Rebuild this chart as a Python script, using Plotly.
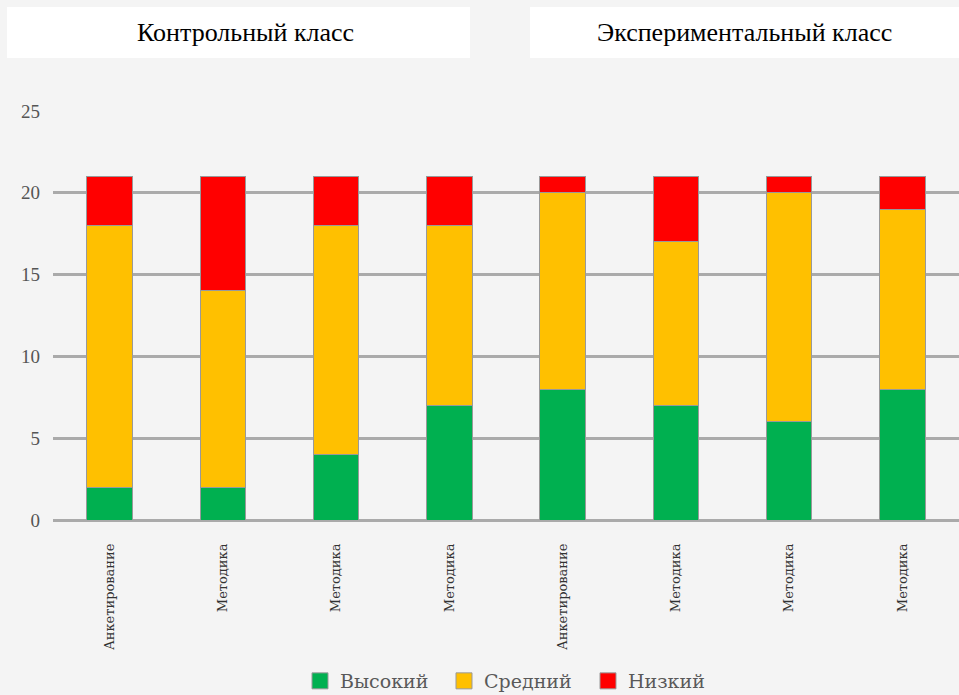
import plotly.graph_objects as go

categories = ["Анкетирование", "Методика", "Методика", "Методика",
              "Анкетирование", "Методика", "Методика", "Методика"]
high = [2, 2, 4, 7, 8, 7, 6, 8]
medium = [16, 12, 14, 11, 12, 10, 14, 11]
low = [3, 7, 3, 3, 1, 4, 1, 2]
series_names = ["Высокий", "Средний", "Низкий"]
colors = ["#00B050", "#FFC000", "#FF0000"]
group_titles = ["Контрольный класс", "Экспериментальный класс"]
y_ticks = [0, 5, 10, 15, 20, 25]

x_idx = list(range(len(categories)))
serif = "Liberation Serif, Times New Roman, serif"
slab = "DejaVu Serif, serif"

PW, PH = 906, 409  # plot area size in px

def px_x(px):
    return (px - 53) / PW

def px_y(py):
    return (520 - py) / PH

fig = go.Figure()
for name, vals, col in zip(series_names, [high, medium, low], colors):
    fig.add_trace(go.Bar(
        x=x_idx, y=vals, name=name,
        marker=dict(color=col, line=dict(color="#999999", width=1)),
        width=0.4, showlegend=False))
    fig.add_trace(go.Scatter(
        x=[None], y=[None], mode="markers", name=name,
        marker=dict(symbol="square", size=18, color=col, line=dict(color="#999999", width=1))))

fig.update_layout(
    barmode="stack",
    width=959, height=695,
    margin=dict(l=53, r=0, t=111, b=175, autoexpand=False),
    paper_bgcolor="#f4f4f4",
    plot_bgcolor="rgba(0,0,0,0)",
    font=dict(family=serif, color="#555555"),
    showlegend=True,
    legend=dict(orientation="h", x=px_x(300), xanchor="left", y=px_y(681), yanchor="middle",
                font=dict(size=19, color="#595959", family=slab),
                itemsizing="trace", traceorder="normal", itemwidth=30,
                entrywidth=99, entrywidthmode="pixels",
                bgcolor="rgba(0,0,0,0)"),
    xaxis=dict(tickmode="array", tickvals=x_idx, ticktext=categories, tickangle=-90,
               range=[-0.5, len(categories) - 0.5], showgrid=False, zeroline=False,
               tickfont=dict(size=13, color="#333333", family=slab), ticks="", showline=False,
               ticklabelstandoff=20),
    yaxis=dict(range=[0, 25], tickvals=y_ticks, showgrid=True, gridcolor="#aaaaaa", gridwidth=3,
               zeroline=True, zerolinecolor="#aaaaaa", zerolinewidth=3,
               tickfont=dict(size=19, color="#555555", family=serif), ticks="",
               ticklabelstandoff=12),
)

fig.add_shape(type="rect", xref="paper", yref="paper", x0=px_x(7), x1=px_x(470),
              y0=px_y(58), y1=px_y(7), fillcolor="white", line=dict(width=0), layer="below")
fig.add_shape(type="rect", xref="paper", yref="paper", x0=px_x(530), x1=1.0,
              y0=px_y(58), y1=px_y(7), fillcolor="white", line=dict(width=0), layer="below")
fig.add_annotation(xref="paper", yref="paper", x=px_x(245), y=px_y(33), xanchor="center",
                   yanchor="middle", text=group_titles[0],
                   showarrow=False, font=dict(size=26, color="black", family=serif))
fig.add_annotation(xref="paper", yref="paper", x=px_x(744), y=px_y(33), xanchor="center",
                   yanchor="middle", text=group_titles[1],
                   showarrow=False, font=dict(size=26, color="black", family=serif))

fig.write_html("out.html", post_script="document.body.style.margin='0';",
               config={"displayModeBar": False})
